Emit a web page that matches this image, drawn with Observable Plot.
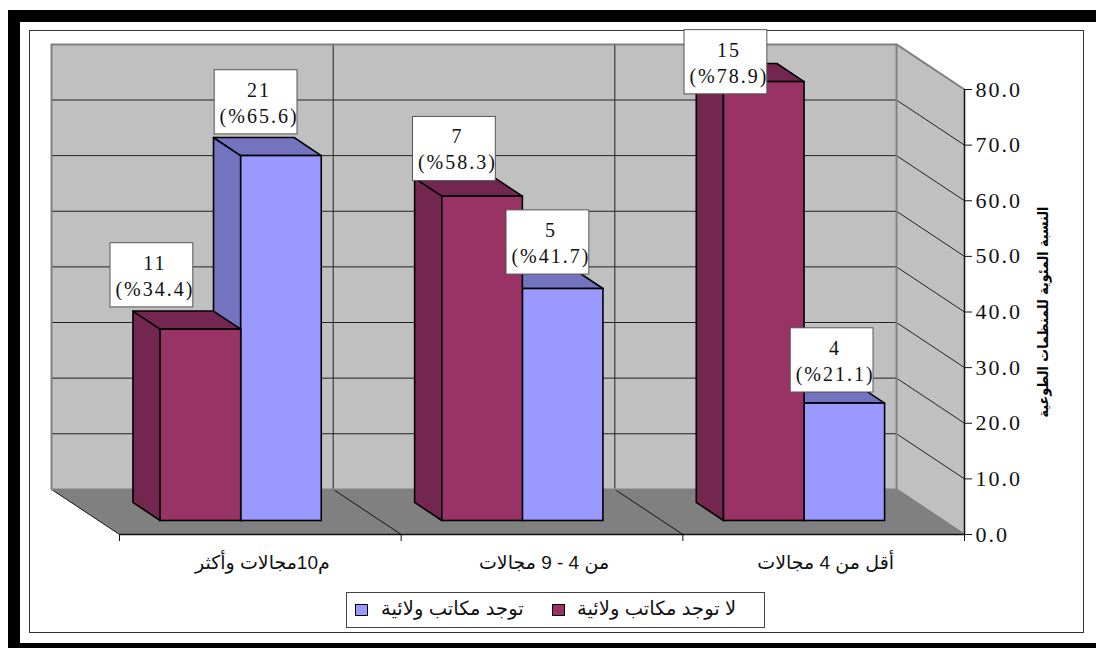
<!DOCTYPE html>
<html lang="ar">
<head>
<meta charset="utf-8">
<script src="https://cdn.jsdelivr.net/npm/d3@7"></script>
<script src="https://cdn.jsdelivr.net/npm/@observablehq/plot@0.6"></script>
<style>
  html,body{margin:0;padding:0;background:#fff;overflow:hidden}
  #page{position:relative;width:1096px;height:648px;overflow:hidden}
  #frame{position:absolute;left:8px;top:10px;width:1088px;height:633px;border-left:12px solid #000;border-top:12px solid #000;box-sizing:border-box;}
  #frameBottom{position:absolute;left:8px;top:643px;width:1088px;height:5px;background:#000}
  #inner{position:absolute;left:29px;top:30px;width:1055px;height:603px;border:1px solid #333;box-sizing:border-box}
  #chart{position:absolute;left:0;top:0}
  #chart svg{background:transparent;display:block}
  g[font-family="Liberation Serif"]{letter-spacing:2px}
  #legend{position:absolute;left:346px;top:592px;width:419px;height:36px;border:1px solid #444;box-sizing:border-box;background:#fff;font:19.5px "Liberation Sans","DejaVu Sans",sans-serif;color:#111}
  #legend i{position:absolute;top:11px;width:11px;height:10px;border:1.5px solid #000}
  #legend span{position:absolute;top:4px;direction:rtl;white-space:nowrap}
</style>
</head>
<body>
<div id="page">
  <div id="frame"></div>
  <div id="frameBottom"></div>
  <div id="inner"></div>
  <div id="chart"></div>
  <div id="legend"></div>
</div>
<script>
// Data
const categories = ["م10مجالات وأكثر", "من 4 - 9 مجالات", "أقل من 4 مجالات"];
const noOfficePct = [34.4, 58.3, 78.9];
const hasOfficePct = [65.6, 41.7, 21.1];
const noOfficeCount = [11, 7, 15];
const hasOfficeCount = [21, 5, 4];
const seriesNames = ["لا توجد مكاتب ولائية", "توجد مكاتب ولائية"];
const yTicks = [0, 10, 20, 30, 40, 50, 60, 70, 80];
const yTitle = "النسبة المئوية للمنظمات الطوعية";

// Label box centres, in chart units (category position, percent)
const labelX = {no: [0.115, 1.189, 2.153], has: [0.485, 1.521, 2.530]};
const labelY = {no: [46.6, 69.3, 84.9], has: [77.7, 52.5, 31.3]};

// The fake 3-D projection, in scale units
const depthX = 0.2414, depthY = 8.11;
const frontD = 0.3, backD = 0.7, halfBar = 0.286, barShift = 0.0045;
const px = (x, d) => x - d * depthX;
const py = (v, d) => v + d * depthY;
const quad = (id, a, b, c, e) => [
  {id, x1: a[0], y1: a[1], x2: b[0], y2: b[1]},
  {id, x1: c[0], y1: c[1], x2: e[0], y2: e[1]}
];

function barFaces(values, xOffset) {
  const front = [], side = [], top = [];
  values.forEach((v, i) => {
    const xa = i + 0.5 + barShift + xOffset, xb = xa + halfBar;
    front.push({x1: px(xa, frontD), x2: px(xb, frontD), y1: py(0, frontD), y2: py(v, frontD)});
    side.push(...quad("s" + i,
      [px(xa, backD), py(0, backD)], [px(xa, backD), py(v, backD)],
      [px(xa, frontD), py(0, frontD)], [px(xa, frontD), py(v, frontD)]));
    top.push(...quad("t" + i,
      [px(xa, backD), py(v, backD)], [px(xb, backD), py(v, backD)],
      [px(xa, frontD), py(v, frontD)], [px(xb, frontD), py(v, frontD)]));
  });
  return {front, side, top};
}
const faceMarks = (faces, fFront, fSide) => [
  Plot.area(faces.side, {x1: "x1", y1: "y1", x2: "x2", y2: "y2", z: "id", fill: fSide, stroke: "#000", strokeWidth: 1.6}),
  Plot.area(faces.top, {x1: "x1", y1: "y1", x2: "x2", y2: "y2", z: "id", fill: fSide, stroke: "#000", strokeWidth: 1.6}),
  Plot.rect(faces.front, {x1: "x1", x2: "x2", y1: "y1", y2: "y2", fill: fFront, stroke: "#000", strokeWidth: 1.6})
];

const wallSlant = yTicks.flatMap(t => quad("w" + t, [px(3, 1), py(t, 1)], [px(3, 1), py(t, 1)], [3, t], [3, t]));
const floorSlant = [0, 1, 2].flatMap(c => quad("f" + c, [px(c, 1), py(0, 1)], [px(c, 1), py(0, 1)], [c, 0], [c, 0]));
const line = (d, o) => Plot.line(d, {x: "x1", y: "y1", z: "id", ...o});

const labels = [
  ...noOfficePct.map((p, i) => ({x: labelX.no[i], y: labelY.no[i], t: `${noOfficeCount[i]}\n(%${p.toFixed(1)})`})),
  ...hasOfficePct.map((p, i) => ({x: labelX.has[i], y: labelY.has[i], t: `${hasOfficeCount[i]}\n(%${p.toFixed(1)})`}))
];

const chart = Plot.plot({
  width: 1096, height: 648,
  marginLeft: 119, marginRight: 132, marginTop: 89, marginBottom: 114,
  style: {background: "transparent", overflow: "visible"},
  x: {domain: [0, 3]},
  y: {domain: [0, 80]},
  marks: [
    // back wall
    Plot.rect([0], {x1: px(0, 1), x2: px(3, 1), y1: py(0, 1), y2: py(80, 1), fill: "#C0C0C0"}),
    // side wall
    Plot.area(quad("sw", [px(3, 1), py(0, 1)], [px(3, 1), py(80, 1)], [3, 0], [3, 80]), {x1: "x1", y1: "y1", x2: "x2", y2: "y2", z: "id", fill: "#C0C0C0"}),
    // floor
    Plot.area(quad("fl", [px(0, 1), py(0, 1)], [px(3, 1), py(0, 1)], [0, 0], [3, 0]), {x1: "x1", y1: "y1", x2: "x2", y2: "y2", z: "id", fill: "#808080"}),
    // gridlines
    Plot.ruleY(yTicks.slice(1, -1).map(t => py(t, 1)), {x1: px(0, 1), x2: px(3, 1), stroke: "#222", strokeWidth: 1}),
    line(wallSlant.filter(d => d.id !== "w0" && d.id !== "w80"), {stroke: "#222", strokeWidth: 1}),
    Plot.ruleX([1, 2].map(c => px(c, 1)), {y1: py(0, 1), y2: py(80, 1), stroke: "#222", strokeWidth: 1}),
    line(floorSlant, {stroke: "#111", strokeWidth: 1}),
    // wall outlines
    Plot.ruleX([px(0, 1), px(3, 1)], {y1: py(0, 1), y2: py(80, 1), stroke: "#808080", strokeWidth: 2}),
    Plot.ruleY([py(0, 1), py(80, 1)], {x1: px(0, 1), x2: px(3, 1), stroke: "#808080", strokeWidth: 2}),
    line(wallSlant.filter(d => d.id === "w0" || d.id === "w80"), {stroke: "#808080", strokeWidth: 2}),
    // bars
    ...faceMarks(barFaces(hasOfficePct, 0), "#9999FF", "#7373BF"),
    ...faceMarks(barFaces(noOfficePct, -halfBar), "#993366", "#732650"),
    // axes
    Plot.ruleY([0], {x1: 0, x2: 3, stroke: "#111", strokeWidth: 1.5}),
    Plot.ruleX([3], {y1: 0, y2: 80, stroke: "#111", strokeWidth: 1.5}),
    Plot.axisY(yTicks, {anchor: "right", tickSize: 7, tickPadding: 4, tickFormat: d => d.toFixed(1), label: null, fontSize: 22, fontFamily: "Liberation Serif", fill: "#111", stroke: "#111"}),
    Plot.axisX([0, 1, 2, 3], {anchor: "bottom", tickSize: 7, tickFormat: () => "", label: null, stroke: "#111"}),
    Plot.text(categories, {x: (d, i) => i + 0.5, y: 0, dx: 2, dy: 28, text: d => d, fontSize: 19, fontFamily: "Liberation Sans, DejaVu Sans", fill: "#111", textAnchor: "middle"}),
    // data labels
    Plot.rect(labels, {x1: d => d.x - 0.147, x2: d => d.x + 0.147, y1: d => d.y - 5.77, y2: d => d.y + 5.77, fill: "#fff", stroke: "#555", strokeWidth: 1}),
    Plot.text(labels, {x: "x", y: "y", dx: 3, dy: -1, text: "t", fontSize: 20, lineHeight: 1.3, fontFamily: "Liberation Serif", fill: "#111"}),
    // axis title
    Plot.text([yTitle], {x: 3, y: 40, dx: 79, dy: 0, text: d => d, rotate: -90, fontSize: 14.2, fontWeight: "bold", fontFamily: "DejaVu Sans Condensed, DejaVu Sans", fill: "#000"})
  ]
});
document.getElementById("chart").append(chart);

// Legend
const legend = document.getElementById("legend");
[["#9999FF", seriesNames[1], 8, 34], ["#993366", seriesNames[0], 205, 230]].forEach(([c, t, sx, tx]) => {
  const sw = document.createElement("i");
  sw.style.left = sx + "px"; sw.style.background = c;
  const s = document.createElement("span");
  s.textContent = t; s.style.left = tx + "px";
  legend.append(sw, s);
});
</script>
</body>
</html>
